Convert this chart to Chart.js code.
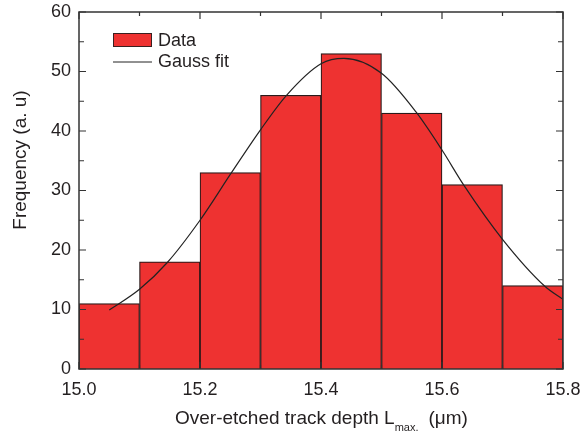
<!DOCTYPE html>
<html>
<head>
<meta charset="utf-8">
<script src="https://cdn.jsdelivr.net/npm/chart.js@4"></script>
<style>
html,body{margin:0;padding:0;background:#fff;}
#wrap{position:relative;width:582px;height:434px;}
</style>
</head>
<body>
<div id="wrap"><canvas id="c" width="582" height="434"></canvas></div>
<script>
// ---- data ----
const binCenters = [15.05, 15.15, 15.25, 15.35, 15.45, 15.55, 15.65, 15.75];
const counts     = [11, 18, 33, 46, 53, 43, 31, 14];
const fitX = [15.05, 15.10, 15.146, 15.20, 15.252, 15.30, 15.343, 15.40, 15.438, 15.50, 15.557, 15.60, 15.636, 15.70, 15.77, 15.80];
const fitY = [9.9, 13.4, 17.9, 25.0, 33.0, 40.2, 46.0, 51.3, 52.2, 49.7, 43.2, 36.8, 30.9, 21.8, 13.9, 11.7];
const seriesLabels = ['Data', 'Gauss fit'];
const yTitle = 'Frequency (a. u)';
const xTitleMain = 'Over-etched track depth L';
const xTitleSub = 'max.';
const xTitleEnd = '(\u03bcm)';

const FONT = '"Liberation Sans", Arial, Helvetica, sans-serif';
const TXT = '#231f20';
const RED = '#ee3231';

const frame = {
  id: 'frame',
  afterDraw(chart) {
    const {ctx, chartArea: a, scales: {x, y}} = chart;
    ctx.save();
    ctx.strokeStyle = '#333';
    ctx.lineWidth = 1.5;
    ctx.strokeRect(a.left, a.top, a.right - a.left, a.bottom - a.top);
    ctx.lineWidth = 1.2;
    ctx.beginPath();
    for (let k = 0; k <= 8; k++) {
      const v = x.min + k * 0.1;
      const px = x.getPixelForValue(v);
      const len = (k % 2 === 0) ? 7 : 4;
      ctx.moveTo(px, a.bottom); ctx.lineTo(px, a.bottom - len);
      ctx.moveTo(px, a.top); ctx.lineTo(px, a.top + len);
    }
    for (let k = 0; k <= 12; k++) {
      const v = y.min + k * 5;
      const py = y.getPixelForValue(v);
      const len = (k % 2 === 0) ? 7 : 5;
      ctx.moveTo(a.left, py); ctx.lineTo(a.left + len, py);
      ctx.moveTo(a.right, py); ctx.lineTo(a.right - len, py);
    }
    ctx.stroke();

    // legend
    ctx.font = '18px ' + FONT;
    ctx.textBaseline = 'middle';
    ctx.fillStyle = RED;
    ctx.fillRect(113, 33, 39, 14);
    ctx.strokeStyle = '#3a2020';
    ctx.lineWidth = 1;
    ctx.strokeRect(113.5, 33.5, 38, 13);
    ctx.fillStyle = TXT;
    ctx.fillText(seriesLabels[0], 158, 41);
    ctx.strokeStyle = '#222';
    ctx.beginPath();
    ctx.moveTo(113, 62); ctx.lineTo(152, 62);
    ctx.stroke();
    ctx.fillText(seriesLabels[1], 158, 62);

    // y title
    ctx.save();
    ctx.font = '19px ' + FONT;
    ctx.translate(26, 160);
    ctx.rotate(-Math.PI / 2);
    ctx.textAlign = 'center';
    ctx.textBaseline = 'alphabetic';
    ctx.fillText(yTitle, 0, 0);
    ctx.restore();

    // x title with subscript
    ctx.textBaseline = 'alphabetic';
    ctx.textAlign = 'left';
    const f1 = '19px ' + FONT, f2 = '11px ' + FONT;
    const gap = 10;
    ctx.font = f1; const w1 = ctx.measureText(xTitleMain).width;
    ctx.font = f2; const w2 = ctx.measureText(xTitleSub).width;
    let sx = 175;
    const base = 424;
    ctx.font = f1; ctx.fillText(xTitleMain, sx, base); sx += w1;
    ctx.font = f2; ctx.fillText(xTitleSub, sx, base + 7); sx += w2 + gap;
    ctx.font = f1; ctx.fillText(xTitleEnd, sx, base);
    ctx.restore();
  }
};

new Chart(document.getElementById('c'), {
  data: {
    datasets: [
      {
        type: 'line',
        label: seriesLabels[1],
        data: fitX.map((v, i) => ({x: v, y: fitY[i]})),
        borderColor: '#222',
        borderWidth: 1.2,
        pointRadius: 0,
        fill: false,
        cubicInterpolationMode: 'monotone',
        order: 0
      },
      {
        type: 'bar',
        label: seriesLabels[0],
        data: binCenters.map((v, i) => ({x: v, y: counts[i]})),
        backgroundColor: RED,
        borderColor: '#2a1a1a',
        borderWidth: 1.2,
        barPercentage: 1,
        categoryPercentage: 1,
        order: 1
      }
    ]
  },
  options: {
    responsive: false,
    animation: false,
    devicePixelRatio: 1,
    layout: {padding: {top: 12, right: 19, left: 0, bottom: 0}},
    plugins: {legend: {display: false}, tooltip: {enabled: false}},
    scales: {
      x: {
        type: 'linear',
        offset: false,
        min: 15.0, max: 15.8,
        grid: {display: false, drawTicks: false, tickLength: 0, offset: false},
        border: {display: false},
        ticks: {
          stepSize: 0.2,
          padding: 10,
          color: TXT,
          font: {size: 18, family: FONT},
          maxRotation: 0,
          callback: v => Number(v).toFixed(1)
        },
        afterFit: s => { s.height = 65; s.paddingLeft = 0; s.paddingRight = 0; }
      },
      y: {
        min: 0, max: 60,
        grid: {display: false, drawTicks: false, tickLength: 0},
        border: {display: false},
        ticks: {
          stepSize: 10,
          padding: 8,
          color: TXT,
          font: {size: 18, family: FONT}
        },
        afterFit: s => { s.width = 79; s.paddingTop = 0; s.paddingBottom = 0; }
      }
    }
  },
  plugins: [frame]
});
</script>
</body>
</html>
